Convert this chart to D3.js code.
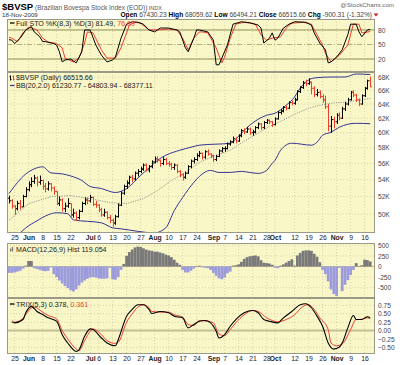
<!DOCTYPE html>
<html>
<head>
<meta charset="utf-8">
<script src="https://cdn.jsdelivr.net/npm/d3@7"></script>
<style>
  body { margin: 0; background: #fff; }
  svg { display: block; }
  text { font-family: "Liberation Sans", Arial, sans-serif; }
</style>
</head>
<body>
<div id="chart"></div>
<script>
// ---- data (prices in thousands, days = trading days counted from 21 May 2009) ----
const ohlc = [
  [51.8,52.1,51.2,51.5],[51.5,51.7,50.6,50.9],[50.9,51.0,49.9,50.6],[50.6,51.5,50.4,51.2],[51.2,51.6,50.5,50.8],
  [50.8,52.2,50.8,52.0],[52.0,53.1,51.9,52.8],[52.8,53.8,52.6,53.4],[53.4,54.3,53.1,53.8],[53.8,54.6,53.5,54.2],
  [54.2,54.4,53.2,53.7],[53.7,54.5,53.4,53.9],[53.9,54.0,52.8,53.2],[53.2,53.6,52.5,52.9],[52.9,53.8,52.7,53.5],
  [53.5,53.6,52.6,53.0],[53.0,53.2,52.2,52.6],[52.6,52.6,51.0,51.2],[51.2,52.0,50.9,51.6],[51.6,51.8,50.3,50.6],
  [50.6,51.3,50.2,50.9],[50.9,51.8,50.7,51.2],[51.2,51.2,49.7,49.9],[49.9,50.6,49.6,50.1],[50.1,50.3,49.2,49.6],
  [49.6,50.5,49.4,50.3],[50.3,51.4,50.2,51.2],[51.2,51.9,51.0,51.6],[51.6,51.9,51.1,51.5],[51.5,52.2,51.3,51.9],
  [51.9,52.0,50.9,51.1],[51.1,51.5,50.7,51.0],[51.0,51.1,50.2,50.5],[50.5,50.7,49.7,49.9],[49.9,50.6,49.7,50.2],
  [50.2,50.3,49.4,49.6],[49.6,49.9,49.0,49.3],[49.3,49.5,48.6,49.0],[49.0,49.9,48.8,49.7],[49.7,51.2,49.6,51.0],
  [51.0,52.6,50.9,52.4],[52.4,53.4,52.2,53.2],[53.2,53.9,52.9,53.6],[53.6,54.5,53.4,54.3],[54.3,54.6,53.7,54.1],
  [54.1,55.0,53.9,54.8],[54.8,55.3,54.4,55.0],[55.0,55.6,54.8,55.3],[55.3,56.0,55.1,55.8],[55.8,56.0,55.0,55.2],
  [55.2,55.8,54.9,55.6],[55.6,56.4,55.4,56.2],[56.2,56.9,56.0,56.6],[56.6,56.9,56.1,56.4],[56.4,56.5,55.6,56.0],
  [56.0,56.8,55.8,56.5],[56.5,56.7,55.8,56.0],[56.0,56.3,55.6,55.9],[55.9,56.1,55.2,55.5],[55.5,56.0,55.2,55.8],
  [55.8,55.9,54.8,55.0],[55.0,55.2,54.3,54.6],[54.6,54.8,53.9,54.3],[54.3,55.0,54.1,54.8],[54.8,55.8,54.7,55.6],
  [55.6,56.5,55.4,56.3],[56.3,56.8,56.0,56.5],[56.5,57.3,56.3,57.0],[57.0,57.6,56.8,57.3],[57.3,57.4,56.5,56.8],
  [56.8,57.7,56.6,57.5],[57.5,57.8,57.0,57.2],[57.2,57.3,56.7,57.0],[57.0,57.1,56.2,56.5],[56.5,57.1,56.3,56.9],
  [56.9,57.8,56.8,57.6],[57.6,58.1,57.4,57.9],[57.9,58.2,57.5,57.9],[57.9,58.7,57.8,58.5],[58.5,59.0,58.3,58.8],
  [58.8,59.5,58.6,59.2],[59.2,59.4,58.6,58.9],[58.9,59.8,58.8,59.6],[59.6,60.5,59.4,60.3],[60.3,60.6,59.8,60.1],
  [60.1,60.8,60.0,60.5],[60.5,60.7,59.7,60.0],[60.0,60.4,59.6,60.1],[60.1,60.9,59.9,60.7],[60.7,61.4,60.5,61.2],
  [61.2,61.3,60.4,60.7],[60.7,61.6,60.5,61.4],[61.4,61.9,61.2,61.7],[61.7,61.8,61.2,61.5],[61.5,61.6,60.8,61.1],
  [61.1,62.1,61.0,61.9],[61.9,63.0,61.8,62.8],[62.8,63.3,62.5,63.0],[63.0,63.7,62.8,63.5],[63.5,63.8,63.1,63.4],
  [63.4,64.4,63.3,64.2],[64.2,64.5,63.8,64.1],[64.1,64.9,63.9,64.6],[64.6,66.0,64.5,65.8],[65.8,66.6,65.6,66.4],
  [66.4,67.4,66.2,67.1],[67.1,67.6,66.6,67.0],[67.0,67.8,66.8,67.2],[67.2,67.3,65.4,66.3],[66.3,66.6,65.0,65.4],
  [65.4,66.2,65.1,65.7],[65.7,66.0,64.8,65.1],[65.1,65.4,64.2,64.6],[64.6,65.2,63.3,63.6],[63.6,64.0,60.2,60.9],
  [60.9,62.3,60.0,61.8],[61.8,62.2,60.6,61.5],[61.5,62.7,61.2,62.4],[62.4,62.8,61.7,62.0],[62.0,63.6,61.9,63.3],
  [63.3,64.3,63.0,64.0],[64.0,64.9,63.8,64.6],[64.6,65.9,64.5,65.7],[65.7,66.0,65.0,65.3],[65.3,65.5,64.3,64.6],
  [64.6,64.8,63.7,64.0],[64.0,65.4,63.9,65.2],[65.2,66.5,65.0,66.3],[66.3,67.6,66.1,67.416],[67.430,68.060,66.494,66.516]
];

const bbUpper = [[0,52.35],[6,54.7],[9,55.33],[12,55.58],[15,54.83],[19,54.71],[22,54.46],[26,53.91],[29,53.18],
  [33,52.94],[38,52.47],[42,52.94],[47,54.52],[51,55.77],[53,56.4],[56,57.04],[61,57.69],[65,58.09],[68,58.35],
  [79,58.61],[83,59.94],[86,61.03],[92,62.4],[95,62.69],[99,63.83],[102,65.02],[104,66.33],[106,67.24],[109,67.85],
  [115,68.0],[120,68.0],[124,68.46],[129,68.377]];
const bbMiddle = [[0,49.3],[7,51.17],[15,51.99],[22,52.11],[29,51.76],[36,51.29],[42,51.17],[48,51.76],[53,52.7],
  [58,53.91],[63,54.89],[68,56.14],[73,56.91],[79,57.69],[84,58.88],[89,59.94],[93,60.86],[97,61.56],[102,62.54],
  [107,63.4],[111,63.83],[115,64.12],[120,64.27],[125,64.56],[129,64.804]];
const bbLower = [[0,47.0],[3,47.7],[4,47.93],[6,48.47],[10,49.24],[14,49.91],[17,50.14],[21,50.03],[23,49.35],
  [33,49.02],[37,48.47],[40,48.36],[52,47.93],[56,48.47],[59,50.37],[62,51.88],[66,53.67],[68,54.4],[72,55.14],
  [75,54.89],[79,54.89],[83,55.02],[86,54.89],[89,54.77],[92,55.14],[94,56.02],[95,56.4],[97,57.69],[101,58.61],
  [108,58.35],[110,58.74],[112,59.67],[115,60.07],[118,60.76],[124,61.29],[129,61.231]];

const stoK = [[0,60],[1,59],[2,52],[4,63],[6,80],[8,87],[9,76],[11,66],[12,56],[13,56],[16,52],[17,49],[18,35],
  [19,14],[20,18],[22,20],[24,12],[26,35],[27,80],[29,80],[31,49],[33,28],[35,14],[37,18],[38,24],[40,63],[42,92],
  [44,97],[46,96],[48,92],[50,80],[52,76],[54,84],[57,84],[60,80],[61,76],[63,43],[64,35],[66,63],[67,80],[68,80],
  [71,76],[73,59],[74,8],[75,8],[78,49],[80,92],[83,97],[86,95],[89,90],[90,84],[91,53],[93,63],[94,74],[95,59],
  [96,63],[98,84],[100,92],[102,97],[106,96],[108,90],[109,74],[111,53],[113,39],[114,12],[115,14],[117,24],
  [119,39],[121,70],[122,92],[124,92],[125,76],[126,66],[128,80],[129,81.49]];
const stoD = [[0,65],[1,63],[3,56],[5,74],[7,86],[10,80],[12,63],[14,55],[17,52],[19,43],[20,22],[23,14],[25,22],
  [27,53],[28,76],[30,74],[33,39],[35,22],[38,22],[40,43],[42,74],[43,90],[45,96],[47,94],[50,80],[53,80],[57,82],
  [60,80],[62,63],[64,39],[66,63],[68,76],[69,76],[71,74],[74,43],[76,12],[77,24],[79,63],[81,92],[84,96],[88,92],
  [90,70],[92,59],[94,63],[97,66],[99,84],[101,94],[105,96],[108,92],[110,70],[112,49],[113,32],[115,14],[118,28],
  [121,49],[123,92],[125,92],[126,74],[129,76.69]];

const macdHist = [-150,-150,-140,-120,-100,-50,20,130,130,-40,-60,-80,-100,-110,-100,-20,-180,-250,-330,-400,
  -460,-510,-560,-590,-540,-450,-380,-330,-290,-260,-250,-260,-280,-290,-290,-280,-30,-300,-310,-250,
  -80,60,250,340,400,450,470,460,430,400,380,370,350,350,330,310,280,260,220,160,
  90,40,-80,-140,-140,-100,-50,10,20,-20,-30,-40,-80,-150,-220,-280,-300,-260,-160,-120,
  20,30,50,110,180,220,240,250,260,240,150,90,80,70,40,-30,-40,20,50,90,
  130,170,20,260,320,370,380,380,370,300,230,100,-80,-180,-350,-540,-650,-700,-30,-580,
  -430,-320,-200,-80,80,10,30,160,150,119.054];

const trix = [[1,0.26],[2,0.23],[5,0.33],[6,0.53],[8,0.72],[10,0.57],[12,0.48],[14,0.38],[17,0.28],[19,-0.12],
  [21,-0.37],[24,-0.62],[25,-0.57],[27,-0.17],[29,0.05],[30,0.03],[33,-0.22],[35,-0.37],[38,-0.45],[39,-0.27],
  [42,0.43],[44,0.63],[46,0.77],[48,0.77],[50,0.63],[51,0.51],[54,0.57],[57,0.53],[59,0.43],[62,0.38],[64,0.08],
  [66,0.18],[68,0.28],[70,0.30],[72,0.23],[74,-0.02],[75,-0.22],[77,-0.12],[79,0.13],[81,0.33],[84,0.53],[87,0.60],
  [89,0.53],[91,0.33],[93,0.28],[96,0.23],[98,0.38],[101,0.57],[104,0.77],[106,0.80],[108,0.68],[110,0.43],
  [112,0.13],[114,-0.37],[116,-0.55],[118,-0.49],[119,-0.37],[121,0.08],[123,0.45],[124,0.33],[126,0.33],
  [128,0.41],[129,0.378]];
const trixSignal = [[1,0.30],[2,0.25],[5,0.36],[6,0.48],[8,0.67],[9,0.70],[12,0.55],[14,0.45],[17,0.35],[19,0.0],
  [21,-0.25],[24,-0.55],[25,-0.60],[27,-0.30],[29,-0.02],[30,0.05],[33,-0.12],[35,-0.30],[38,-0.38],[39,-0.35],
  [42,0.25],[44,0.50],[46,0.70],[48,0.77],[50,0.68],[51,0.57],[54,0.55],[57,0.55],[59,0.47],[62,0.40],[64,0.18],
  [66,0.15],[68,0.30],[71,0.28],[73,0.23],[75,-0.10],[77,-0.15],[79,0.03],[81,0.23],[84,0.47],[87,0.60],[89,0.57],
  [92,0.38],[94,0.30],[96,0.26],[99,0.33],[102,0.47],[105,0.72],[107,0.77],[109,0.63],[111,0.38],[114,0.03],
  [115,-0.37],[117,-0.45],[119,-0.40],[122,0.03],[124,0.33],[125,0.33],[128,0.38],[129,0.361]];

const dateTicks = [['2009-05-25','25'],['2009-06-01','Jun'],['2009-06-08','8'],['2009-06-15','15'],['2009-06-22','22'],
  ['2009-07-01','Jul'],['2009-07-06','6'],['2009-07-13','13'],['2009-07-20','20'],['2009-07-27','27'],
  ['2009-08-03','Aug'],['2009-08-10','10'],['2009-08-17','17'],['2009-08-24','24'],['2009-09-01','Sep'],
  ['2009-09-07','7'],['2009-09-14','14'],['2009-09-21','21'],['2009-09-28','28'],['2009-10-01','Oct'],
  ['2009-10-12','12'],['2009-10-19','19'],['2009-10-26','26'],['2009-11-02','Nov'],['2009-11-09','9'],
  ['2009-11-16','16']];

const stoTicks = [80, 50, 20];
const priceTicks = [68, 66, 64, 62, 60, 58, 56, 54, 52, 50];
const macdTicks = [500, 250, 0, -250, -500];
const trixTicks = [0.75, 0.5, 0.25, 0, -0.25, -0.5];

// ---- layout ----
const width = 400, height = 365;
const left = 7, right = 375;
const pSto = {top: 19, bottom: 72};
const pPrice = {top: 72, bottom: 233};
const pMacd = {top: 243, bottom: 298};
const pTrix = {top: 298, bottom: 354};
const bg = '#f9f7c8';
const gridColor = '#cfcba0';
const red = '#f03c2c';
const navy = '#343494';
const legendSize = 7.1;

// trading calendar (weekdays)
const days = d3.timeDay.range(new Date(2009, 4, 21), new Date(2009, 10, 19))
  .filter(d => d.getDay() % 6 !== 0);
const fmt = d3.timeFormat('%Y-%m-%d');
const dayIndex = new Map(days.map((d, i) => [fmt(d), i]));
const tickIdx = dateTicks.map(t => dayIndex.get(t[0]));

const x = d3.scaleLinear().domain([0, days.length - 1]).range([9, 370.2]);
const yS = d3.scaleLinear().domain([0, 100]).range([68.7, 20.3]);
const yP = d3.scaleLog().domain([50, 68]).range([214, 77]);
const yM = d3.scaleLinear().domain([-500, 500]).range([287.7, 245.3]);
const yT = d3.scaleLinear().domain([-0.5, 0.75]).range([347.4, 305.4]);

const svg = d3.select('#chart').append('svg')
  .attr('width', width).attr('height', height)
  .attr('viewBox', `0 0 ${width} ${height}`);

const defs = svg.append('defs');
[pSto, pPrice, pMacd, pTrix].forEach((p, i) => {
  p.clip = 'clip' + i;
  defs.append('clipPath').attr('id', p.clip)
    .append('rect').attr('x', left).attr('y', p.top)
    .attr('width', right - left).attr('height', p.bottom - p.top);
});

// panel backgrounds + grids
function drawPanel(p, yScale, ticks, fmtTick) {
  svg.append('rect')
    .attr('x', left).attr('y', p.top)
    .attr('width', right - left).attr('height', p.bottom - p.top)
    .attr('fill', bg);
  const g = svg.append('g').attr('clip-path', `url(#${p.clip})`);
  g.selectAll('.vgrid').data(tickIdx).join('line')
    .attr('x1', d => x(d)).attr('x2', d => x(d))
    .attr('y1', p.top).attr('y2', p.bottom)
    .attr('stroke', gridColor).attr('stroke-width', 0.8)
    .attr('stroke-dasharray', '1,2');
  g.selectAll('.hgrid').data(ticks).join('line')
    .attr('x1', left).attr('x2', right)
    .attr('y1', d => yScale(d)).attr('y2', d => yScale(d))
    .attr('stroke', gridColor).attr('stroke-width', 0.8)
    .attr('stroke-dasharray', '1,2');

  const axis = d3.axisRight(yScale).tickValues(ticks).tickSize(0).tickPadding(0)
    .tickFormat(fmtTick);
  const ag = svg.append('g').attr('transform', `translate(${right + 3},0)`).call(axis);
  ag.select('.domain').remove();
  ag.selectAll('text').attr('font-size', 6.6).attr('fill', '#444')
    .attr('font-family', '"Liberation Sans", Arial, sans-serif');
  return g;
}

const gSto = drawPanel(pSto, yS, stoTicks, d => d);
const gPrice = drawPanel(pPrice, yP, priceTicks, d => d + 'K');
const gMacd = drawPanel(pMacd, yM, macdTicks, d => d);
const gTrix = drawPanel(pTrix, yT, trixTicks, d3.format('.2f'));

// ---- STO panel ----
gSto.selectAll('.lvl').data([80, 20]).join('line')
  .attr('x1', left).attr('x2', right)
  .attr('y1', d => yS(d)).attr('y2', d => yS(d))
  .attr('stroke', '#94945a').attr('stroke-width', 1);
gSto.append('line')
  .attr('x1', left).attr('x2', right)
  .attr('y1', yS(50)).attr('y2', yS(50))
  .attr('stroke', '#a8a870').attr('stroke-width', 0.9)
  .attr('stroke-dasharray', '5,2,1,2');

const lineFn = ys => d3.line().x(d => x(d[0])).y(d => ys(d[1]));
gSto.append('path').datum(stoD).attr('d', lineFn(yS))
  .attr('fill', 'none').attr('stroke', red).attr('stroke-width', 1);
gSto.append('path').datum(stoK).attr('d', lineFn(yS))
  .attr('fill', 'none').attr('stroke', '#000').attr('stroke-width', 1);

// ---- price panel ----
gPrice.append('path').datum(bbMiddle).attr('d', lineFn(yP))
  .attr('fill', 'none').attr('stroke', '#8c8c8c').attr('stroke-width', 0.9)
  .attr('stroke-dasharray', '1.2,1.2');
[bbUpper, bbLower].forEach(s => {
  gPrice.append('path').datum(s).attr('d', lineFn(yP).curve(d3.curveMonotoneX))
    .attr('fill', 'none').attr('stroke', navy).attr('stroke-width', 1);
});

gPrice.selectAll('.bar').data(ohlc).join('path')
  .attr('d', (d, i) => {
    const cx = Math.round(x(i)) + 0.5;
    return `M${cx},${yP(d[1])}V${yP(d[2])}M${cx - 1.5},${yP(d[0])}H${cx}M${cx},${yP(d[3])}H${cx + 1.5}`;
  })
  .attr('fill', 'none')
  .attr('stroke', (d, i) => (i > 0 && d[3] < ohlc[i - 1][3]) ? red : '#000')
  .attr('stroke-width', 1);

// ---- MACD histogram ----
gMacd.append('line')
  .attr('x1', left).attr('x2', right).attr('y1', yM(0)).attr('y2', yM(0))
  .attr('stroke', '#b8b490').attr('stroke-width', 0.8);
gMacd.selectAll('.hist').data(macdHist).join('rect')
  .attr('x', (d, i) => x(i) - 1.4)
  .attr('width', 2.8)
  .attr('y', d => Math.min(yM(d), yM(0)))
  .attr('height', d => Math.abs(yM(d) - yM(0)))
  .attr('fill', d => d >= 0 ? '#7a7a7a' : '#9c9cdc');

// ---- TRIX ----
gTrix.append('line')
  .attr('x1', left).attr('x2', right).attr('y1', yT(0)).attr('y2', yT(0))
  .attr('stroke', '#c4c096').attr('stroke-width', 2);
gTrix.append('path').datum(trixSignal).attr('d', lineFn(yT).curve(d3.curveMonotoneX))
  .attr('fill', 'none').attr('stroke', red).attr('stroke-width', 1);
gTrix.append('path').datum(trix).attr('d', lineFn(yT).curve(d3.curveMonotoneX))
  .attr('fill', 'none').attr('stroke', '#000').attr('stroke-width', 1.1);

// panel borders
[pSto, pPrice, pMacd, pTrix].forEach(p => {
  svg.append('rect')
    .attr('x', left + 0.5).attr('y', p.top + 0.5)
    .attr('width', right - left - 1).attr('height', p.bottom - p.top - 1)
    .attr('fill', 'none').attr('stroke', '#9a9a88').attr('stroke-width', 1);
});

// ---- date axes ----
function dateAxis(yPos) {
  const ax = d3.axisBottom(x).tickValues(tickIdx).tickSize(0).tickPadding(0)
    .tickFormat((d, i) => dateTicks[i][1]);
  const g = svg.append('g').attr('transform', `translate(0,${yPos})`).call(ax);
  g.select('.domain').remove();
  g.selectAll('text')
    .attr('font-size', 6.8)
    .attr('fill', '#222')
    .attr('font-family', '"Liberation Sans", Arial, sans-serif')
    .attr('font-weight', (d, i) => /[A-Za-z]/.test(dateTicks[i][1]) ? 'bold' : 'normal');
}
dateAxis(235);
dateAxis(356);

// ---- legends ----
function legend(yPos, parts) {
  const t = svg.append('text').attr('x', 16).attr('y', yPos)
    .attr('font-size', legendSize).attr('fill', '#222');
  parts.forEach(p => t.append('tspan').text(p[0]).attr('fill', p[1] || '#222'));
}
function dash(yPos, color) {
  svg.append('line').attr('x1', 10).attr('x2', 14.5)
    .attr('y1', yPos).attr('y2', yPos)
    .attr('stroke', color).attr('stroke-width', 1.3);
}
dash(23, '#000');
legend(25.5, [['Full STO %K(8,3) %D(3) 81.49, '], ['76.69', red]]);

// tiny bar icon for price legend
svg.append('path').attr('d', 'M10.5,75.5V80.5M9.5,76.5H10.5M10.5,79.5H11.5').attr('stroke', '#000').attr('fill', 'none');
svg.append('path').attr('d', 'M13.5,75.5V80.5M12.5,76.5H13.5M13.5,79.5H14.5').attr('stroke', red).attr('fill', 'none');
legend(80, [['$BVSP (Daily) 66515.66']]);
dash(85.5, navy);
legend(88.2, [['BB(20,2.0) 61230.77 - 64803.94 - 68377.11']]);

svg.append('rect').attr('x', 10).attr('y', 248.5).attr('width', 1.3).attr('height', 3).attr('fill', '#777');
svg.append('rect').attr('x', 11.8).attr('y', 247).attr('width', 1.3).attr('height', 4.5).attr('fill', '#777');
legend(252, [['MACD(12,26,9) Hist 119.054']]);

dash(304, '#000');
legend(306.8, [['TRIX(5,3) 0.378, '], ['0.361', red]]);

// ---- header ----
const h1 = svg.append('text').attr('x', 2).attr('y', 10);
h1.append('tspan').text('$BVSP').attr('font-size', 9.5).attr('font-weight', 'bold').attr('fill', '#000');
h1.append('tspan').text(' (Brazilian Bovespa Stock Index (EOD))').attr('font-size', 6.5).attr('fill', '#555');
h1.append('tspan').text(' INDX').attr('font-size', 5.5).attr('fill', '#555');

svg.append('text').attr('x', 394).attr('y', 7).attr('text-anchor', 'end')
  .attr('font-size', 6.2).attr('fill', '#666').text('@StockCharts.com');

svg.append('text').attr('x', 2).attr('y', 17).attr('font-size', 6.2).attr('fill', '#333').text('18-Nov-2009');

const quote = [['Open', '67430.23'], ['High', '68059.62'], ['Low', '66494.21'], ['Close', '66515.66'], ['Chg', '-900.31 (-1.32%)']];
const q = svg.append('text').attr('x', 372).attr('y', 17).attr('text-anchor', 'end').attr('font-size', 6.6).attr('fill', '#222');
quote.forEach((d, i) => {
  q.append('tspan').text((i ? ' ' : '') + d[0]).attr('font-weight', 'bold').attr('fill', '#000');
  q.append('tspan').text(' ' + d[1]).attr('fill', '#444');
});
svg.append('path').attr('d', 'M373.5,13.5L378.5,13.5L376,16.5Z').attr('fill', '#d02020');
</script>
</body>
</html>
